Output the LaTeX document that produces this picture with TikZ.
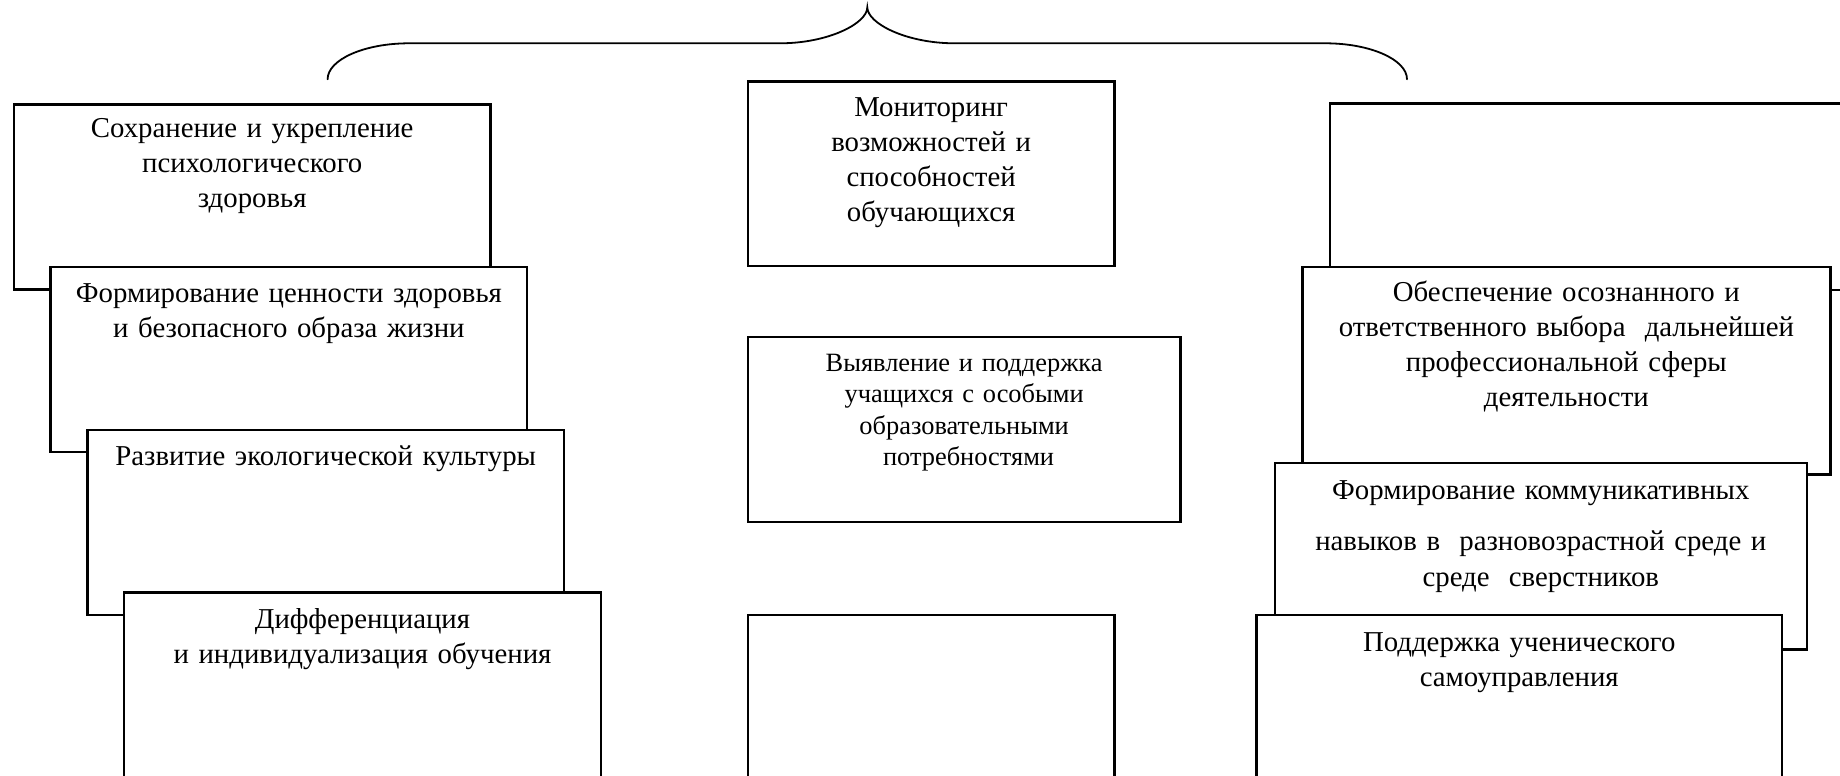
\documentclass[tikz,border=0pt]{standalone}
\usepackage{fontspec}
\setmainfont{Liberation Serif}
\usetikzlibrary{calc}
\tikzset{
  box/.style={draw=black, line width=2.3pt, fill=white, rectangle, inner sep=0pt, anchor=north west},
  lbox/.style={box, minimum width=476.7pt, minimum height=185pt},
  rbox/.style={box, minimum width=528pt},
  txt/.style={inner sep=0pt, align=center, anchor=base, font=\fontsize{28.8pt}{35pt}\selectfont},
  smalltxt/.style={txt, font=\fontsize{26.4pt}{31.2pt}\selectfont},
  bracestyle/.style={line width=1.8pt, line cap=round}
}
\begin{document}
\begin{tikzpicture}[x=1pt, y=-1pt]
\useasboundingbox (0,0) rectangle (1840,776);
\clip (0,0) rectangle (1840,776);

% brace
\coordinate (bl) at (327.6,79.3);
\coordinate (bt) at (867.3,7.3);
\coordinate (br) at (1407,79.3);
\draw[bracestyle] (bl) .. controls (327.6,59.5) and (364.5,43.3) .. (409,43.3) -- (780,43.3)
  .. controls (828,43.3) and (867.3,23.5) .. (bt)
  .. controls (867.3,23.5) and (906.6,43.3) .. (954.5,43.3) -- (1325.5,43.3)
  .. controls (1370,43.3) and (1407,59.5) .. (br);

% left column
\node[lbox] (L1) at (12.7,103.3) {};
\node[txt, text width=470pt] (L1t) at ($(L1.north)+(0,34)$) {Сохранение и укрепление\\психологического\\здоровья};
\node[lbox] (L2) at (49.4,266) {};
\node[txt, text width=470pt] (L2t) at ($(L2.north)+(0,36)$) {Формирование ценности здоровья\\и безопасного образа жизни};
\node[lbox] (L3) at (86.2,428.7) {};
\node[txt, text width=470pt] (L3t) at ($(L3.north)+(0,37)$) {Развитие экологической культуры};
\node[lbox, minimum height=230pt] (L4) at (123,591.3) {};
\node[txt, text width=470pt] (L4t) at ($(L4.north)+(0,37.5)$) {Дифференциация\\и индивидуализация обучения};

% middle column
\node[box, minimum width=366.6pt, minimum height=184.5pt] (M1) at (746.7,80.5) {};
\node[txt, text width=360pt] (M1t) at ($(M1.north)+(0,36.2)$) {Мониторинг\\возможностей и\\способностей\\обучающихся};
\node[box, minimum width=432.6pt, minimum height=185.4pt] (M2) at (746.7,335.6) {};
\node[smalltxt, text width=426pt] (M2t) at ($(M2.north)+(0,36.1)$) {Выявление и поддержка\\учащихся с особыми\\образовательными\\\ потребностями};
\node[box, minimum width=366.6pt, minimum height=230pt] (M3) at (746.7,613.5) {};

% right column
\node[rbox, minimum height=186.4pt] (R1) at (1328.8,102.3) {};
\node[rbox, minimum height=207.3pt] (R2) at (1301.2,266) {};
\node[txt, text width=522pt] (R2t) at ($(R2.north)+(0,35.7)$) {Обеспечение осознанного и\\ответственного выбора\ \ дальнейшей\\профессиональной сферы\\деятельности};
\node[box, minimum width=531.9pt, minimum height=186.3pt] (R3) at (1273.7,462) {};
\node[txt, text width=526pt] (R3t) at ($(R3.north)+(0,37.3)$) {Формирование коммуникативных\\[16pt]навыков в\ \ разновозрастной среде и\\[1.6pt]среде\ \ сверстников};
\node[box, minimum width=525.5pt, minimum height=230pt] (R4) at (1255.3,614) {};
\node[txt, text width=520pt] (R4t) at ($(R4.north)+(0,37.7)$) {Поддержка ученического\\самоуправления};
\end{tikzpicture}
\end{document}
